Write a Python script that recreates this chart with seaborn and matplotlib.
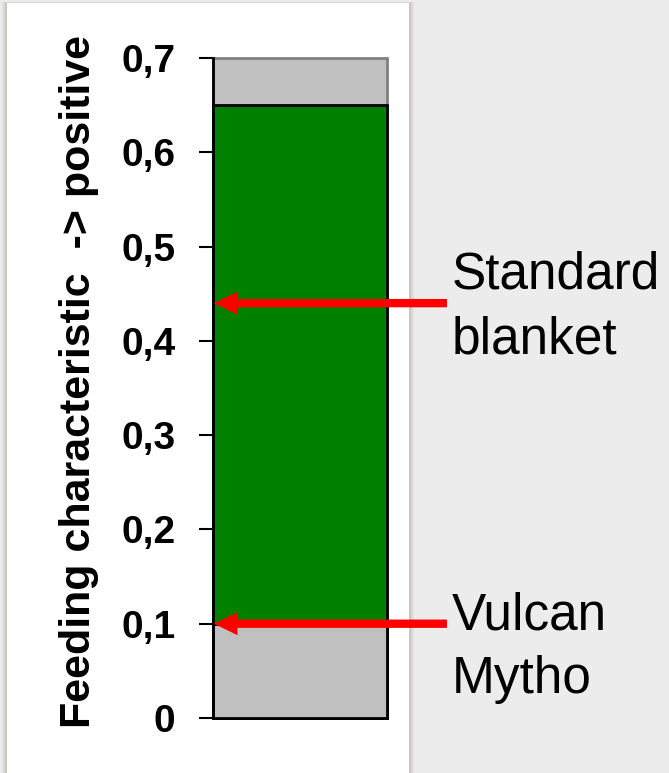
import matplotlib
matplotlib.use("Agg")
import matplotlib.pyplot as plt
from matplotlib.patches import Rectangle
import seaborn as sns

# ---- data ----
categories = ["Feeding"]
range_top = [0.7]
green_top = [0.65]
green_bottom = [0.1]
tick_values = [0, 0.1, 0.2, 0.3, 0.4, 0.5, 0.6, 0.7]
tick_labels = ["0", "0,1", "0,2", "0,3", "0,4", "0,5", "0,6", "0,7"]
arrow_values = [0.44, 0.1]
arrow_labels = ["Standard\nblanket", "Vulcan\nMytho"]
ylabel = "Feeding characteristic  -> positive"

sns.set_style("white")
plt.rcParams["font.family"] = ["Liberation Sans", "DejaVu Sans"]
plt.rcParams["text.color"] = "black"
plt.rcParams["axes.labelcolor"] = "black"
plt.rcParams["ytick.color"] = "black"

W, H = 669, 773
fig = plt.figure(figsize=(W / 100, H / 100), dpi=100)
fig.patch.set_facecolor("#ececec")

# white panel with soft shadow
for off, col in [(5, "#e2e0de"), (3.5, "#d6d2ce"), (2, "#cbc6c1")]:
    fig.patches.append(Rectangle(((7 - off) / W, 0), (402 + 2 * off) / W, (770 + off * 0.2) / H,
                                 transform=fig.transFigure, facecolor=col, edgecolor="none", zorder=-10))
fig.patches.append(Rectangle((7 / W, 0), 402 / W, 770 / H, transform=fig.transFigure,
                             facecolor="white", edgecolor="none", zorder=-9))

ax = fig.add_axes([213 / W, 55 / H, 174 / W, 660 / H])
ax.set_facecolor("none")
ax.set_zorder(1)

sns.barplot(x=categories, y=range_top, ax=ax, color="#c0c0c0", saturation=1, width=1,
            edgecolor="#808080", linewidth=2, errorbar=None)
sns.barplot(x=categories, y=green_top, ax=ax, color="#008000", saturation=1, width=1,
            edgecolor="black", linewidth=2, errorbar=None)
sns.barplot(x=categories, y=green_bottom, ax=ax, color="#c0c0c0", saturation=1, width=1,
            edgecolor="black", linewidth=2, errorbar=None)
for p in ax.patches:
    p.set_clip_on(False)

ax.set_xlim(-0.5, 0.5)
ax.set_ylim(0, 0.7)
ax.set_xticks([])
ax.set_xlabel("")
ax.set_yticks(tick_values)
ax.set_yticklabels(tick_labels, fontsize=28, fontweight="bold", color="black")
ax.tick_params(axis="y", length=10, width=1.5, pad=17, direction="out", color="black", left=True)
for s in ["top", "right", "bottom"]:
    ax.spines[s].set_visible(False)
ax.spines["left"].set_color("black")
ax.spines["left"].set_linewidth(2)

ax.set_ylabel(ylabel, fontsize=31, fontweight="bold", color="black")
ax.yaxis.set_label_coords(-0.655, 0.51)

# arrows + labels
tail_x = (447 - 213) / 174
for val, lab in zip(arrow_values, arrow_labels):
    ax.annotate("", xy=(0.005, val), xycoords=("axes fraction", "data"),
                xytext=(tail_x, val), textcoords=("axes fraction", "data"),
                annotation_clip=False,
                arrowprops=dict(arrowstyle="simple,head_length=17,head_width=16.5,tail_width=6",
                                mutation_scale=1, color="red", lw=0, shrinkA=0, shrinkB=0))

label_baselines = [(288, 353), (630, 693)]
for lab, (b1, b2) in zip(arrow_labels, label_baselines):
    l1, l2 = lab.split("\n")
    fig.text(452 / W, 1 - b1 / H, l1, fontsize=37, va="baseline", ha="left", color="black")
    fig.text(452 / W, 1 - b2 / H, l2, fontsize=37, va="baseline", ha="left", color="black")

fig.savefig("out.png", dpi=100, facecolor=fig.get_facecolor())
